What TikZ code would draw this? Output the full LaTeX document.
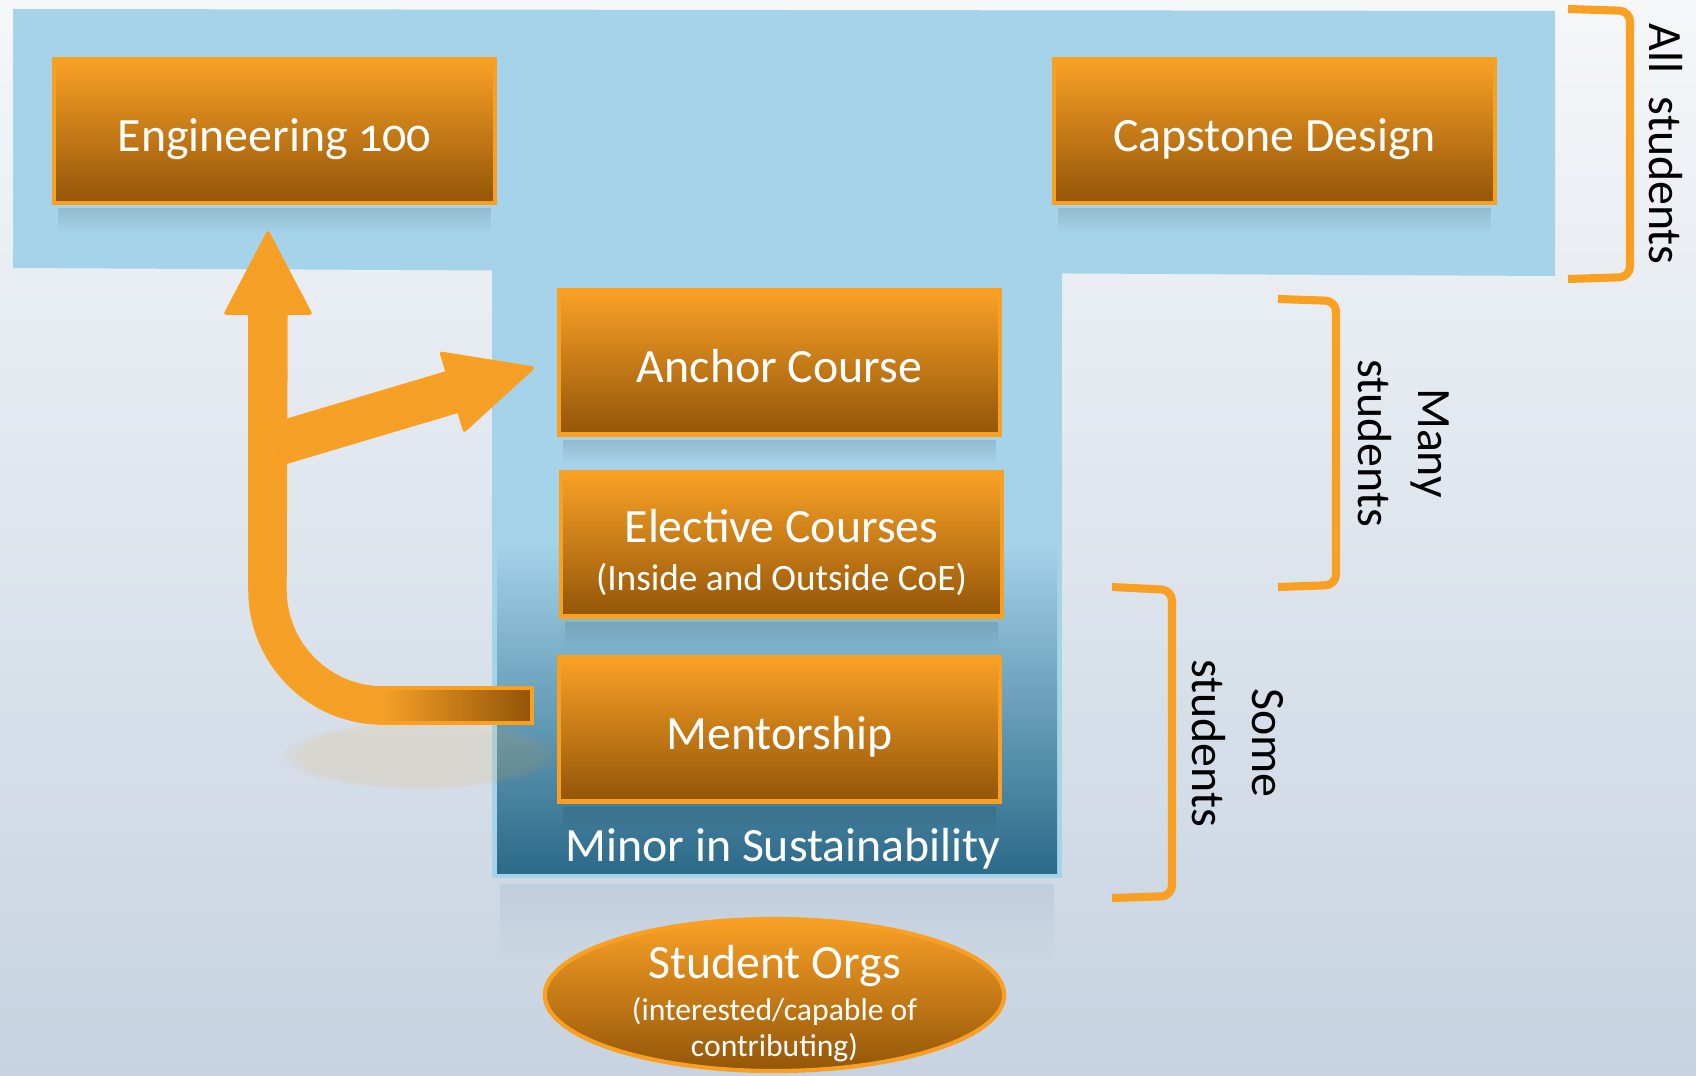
\documentclass[tikz,border=0pt]{standalone}
\usepackage{fontspec}
\setmainfont{Carlito}
\usepackage{tikz}
\usetikzlibrary{calc}
\usetikzlibrary{shapes.geometric}
\usetikzlibrary{positioning,fadings}
\definecolor{bgtop}{HTML}{F5F7F9}
\definecolor{bgbot}{HTML}{C7D3E1}
\definecolor{tblue}{HTML}{A5D3E9}
\definecolor{tdark}{HTML}{2C6A89}
\definecolor{otop}{HTML}{F9A126}
\definecolor{obot}{HTML}{935508}
\definecolor{oline}{HTML}{F9A023}
\definecolor{afill}{HTML}{F4A026}
\newcommand{\mainsize}{\fontsize{13.6}{16}\selectfont}
\newcommand{\smallsize}{\fontsize{10.6}{12}\selectfont}

\begin{document}
\begin{tikzpicture}[
x=0.01cm, y=-0.01cm,
OrangeBox/.style={draw=oline,line width=1.2pt,top color=otop,bottom color=obot,
  minimum width=4.41cm,minimum height=1.44cm,inner sep=0pt,text=white,font=\mainsize,align=center,
  text height=11.4pt,text depth=0pt},
OrgsEllipse/.style={ellipse,draw=oline,line width=1.2pt,top color=otop,bottom color=obot,
  minimum width=4.59cm,minimum height=1.52cm,inner sep=0pt},
OrgsText/.style={text=white,align=center,inner sep=0pt,font=\fontsize{9}{10.2}\selectfont},
BlockArrow/.style={fill=afill,draw=oline,line width=1pt,line join=round},
Brackets/.style={draw=oline,line width=2.3pt,rounded corners=3pt},
Labels/.style={text=black,font=\mainsize,rotate=-90,align=center}
]
\useasboundingbox (0,0) rectangle (1696,1076);
\shade[top color=bgtop,bottom color=bgbot] (0,0) rectangle (1696,1076);

% the T: all students on top, the minor in the stem
\fill[tblue] (13,9) -- (1555,11) -- (1555,276) -- (13,268) -- cycle;
\fill[tblue] (492,260) rectangle (1062,878);
\shade[top color=tblue,bottom color=tdark] (497,540) rectangle (1057,873);
\fill[tdark,opacity=.09,path fading=south] (500,884) rectangle (1054,960);

\node[OrangeBox] (eng) at (274.5,131) {Engineering {\addfontfeatures{Numbers=OldStyle}100}};
\node[OrangeBox] (capstone) at (1274.5,131) {Capstone Design};
\node[OrangeBox] (anchor) at (779.5,362.5) {Anchor Course};
\node[OrangeBox,text height=26pt,text depth=0pt] (elective) at (781.5,544.5)
  {Elective Courses\\[-2.5pt]\smallsize (Inside and Outside CoE)};
\node[OrangeBox] (mentor) at (779.5,729.5) {Mentorship};
\node[text=white,font=\mainsize] (minor) at (783,849) {Minor in Sustainability};

% soft shadows under the boxes
\foreach \b in {eng,capstone,anchor,elective,mentor}
  \fill[black,opacity=.11,path fading=south] ($(\b.south west)+(6,3)$) rectangle ($(\b.south east)+(-6,27)$);

\node[OrgsEllipse] (orgs) at (774.5,995) {};
\node[OrgsText,text height=34.8pt,text depth=0pt] (orgstext) at (orgs.center) {{\mainsize Student Orgs}\\[1.8pt]
  (interested/capable of\\ contributing)};

%\draw[red] (0,0) grid (1696,1076);

% arrow from the mentorship back up to Engineering 100
\fill[afill,opacity=.12,path fading=circle with fuzzy edge 15 percent] (420,755) ellipse [x radius=1.4cm,y radius=.35cm];
\filldraw[BlockArrow] (532,688) -- (383,688) arc[start angle=270,end angle=180,radius=0.98cm]
  -- (286,313) -- (310,313) -- (268,233) -- (226,313) -- (250,313) -- (250,590)
  arc[start angle=180,end angle=270,radius=1.33cm] -- (532,723) -- cycle;
\shade[left color=afill,right color=obot] (383,690) rectangle (530,721);
\draw[oline,line width=1pt] (383,688) -- (532,688) -- (532,723) -- (383,723);

% and on to the anchor course
\begin{scope}[shift={(271,446)},rotate=16.6]
\filldraw[BlockArrow] (0,-20) -- (190,-20) -- (190,-40) -- (273,0) -- (190,40) -- (190,20) -- (0,20) -- cycle;
\end{scope}

% brackets on the right
\draw[Brackets] (1568,9) -- (1630,11) -- (1630,277) -- (1568,279);
\draw[Brackets] (1278,299) -- (1336,301) -- (1336,585) -- (1278,587);
\draw[Brackets] (1112,587) -- (1172,590) -- (1172,896) -- (1112,898);

\node[Labels] (allst) at (1666,144) {All\hspace{0.5em}students};
\node[Labels] (manyst) at (1404,443) {Many\\[1pt]students};
\node[Labels] (somest) at (1238,743) {Some\\[1pt]students};

\end{tikzpicture}
\end{document}
